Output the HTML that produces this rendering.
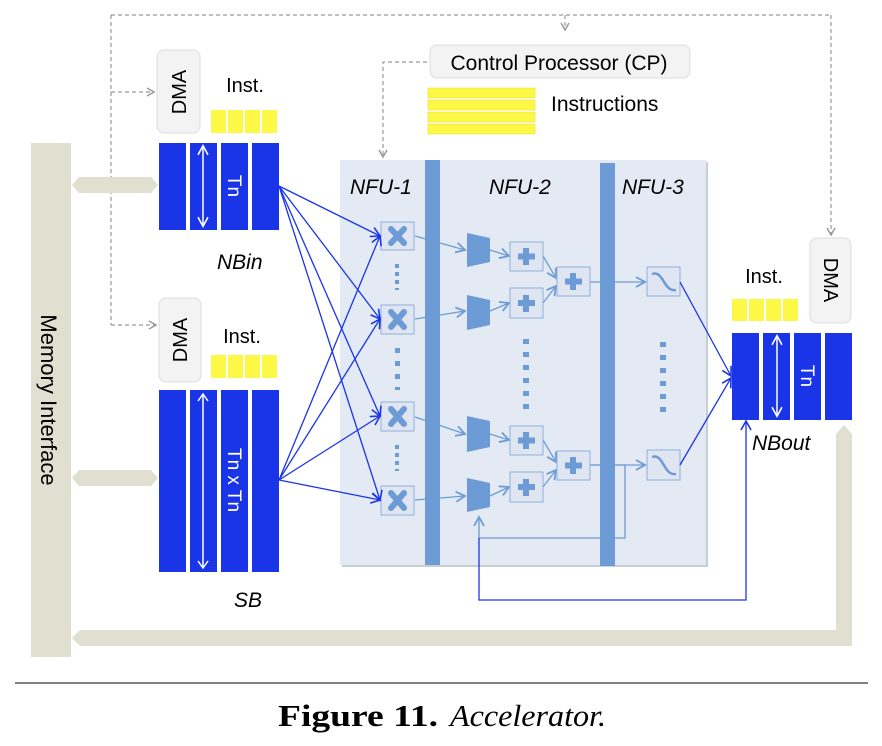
<!DOCTYPE html>
<html><head><meta charset="utf-8"><style>
html,body{margin:0;padding:0;background:#fff;}
svg{display:block;font-family:"Liberation Sans",sans-serif;}
</style></head><body>
<svg width="882" height="746" viewBox="0 0 882 746" xmlns="http://www.w3.org/2000/svg">
<defs>
<marker id="ag" markerWidth="10" markerHeight="10" refX="8" refY="5" orient="auto" markerUnits="userSpaceOnUse"><path d="M1,1 L8,5 L1,9" fill="none" stroke="#999" stroke-width="1.5"/></marker>
<marker id="ab" markerWidth="12" markerHeight="12" refX="10" refY="6" orient="auto" markerUnits="userSpaceOnUse"><path d="M1,1 L10,6 L1,11" fill="none" stroke="#1a35e8" stroke-width="1.6"/></marker>
<marker id="al" markerWidth="12" markerHeight="12" refX="10" refY="6" orient="auto" markerUnits="userSpaceOnUse"><path d="M1,1 L10,6 L1,11" fill="none" stroke="#6d9bd6" stroke-width="1.8"/></marker>
<g id="wa"><line x1="0" y1="-30" x2="0" y2="30" stroke="#fff" stroke-width="1.5"/><path d="M-5,-24 L0,-31 L5,-24 M-5,24 L0,31 L5,24" fill="none" stroke="#fff" stroke-width="1.5"/></g>
</defs>

<g fill="none" stroke="#999" stroke-width="1.2" stroke-dasharray="4,3">
<path d="M111,15 L831,15"/>
<path d="M111,15 L111,325"/>
<path d="M111,92 L154,92" marker-end="url(#ag)"/>
<path d="M111,325 L156,325" marker-end="url(#ag)"/>
<path d="M565,15 L565,30" marker-end="url(#ag)"/>
<path d="M831,15 L831,235" marker-end="url(#ag)"/>
<path d="M427,62 L383,62 L383,157" marker-end="url(#ag)"/>
</g>

<rect x="31" y="143" width="40" height="514" fill="#e1dfd0"/>
<text transform="translate(41,400) rotate(90)" text-anchor="middle" font-size="22" fill="#000">Memory Interface</text>
<path d="M72,185 L79,177 L151,177 L158,185 L151,193 L79,193 Z" fill="#e1dfd0"/>
<path d="M72,478 L79,470 L151,470 L158,478 L151,486 L79,486 Z" fill="#e1dfd0"/>
<path d="M72,638 L80,630 L836,630 L836,434 L844,425 L852,434 L852,646 L80,646 Z" fill="#e1dfd0"/>

<g fill="#f3f3f3" stroke="#ddd">
<rect x="157" y="50" width="43" height="83" rx="7"/>
<rect x="159" y="298" width="42" height="84" rx="7"/>
<rect x="810" y="238" width="41" height="85" rx="7"/>
</g>
<g font-size="20" fill="#000" text-anchor="middle">
<text transform="translate(186,92) rotate(-90)">DMA</text>
<text transform="translate(187,340) rotate(-90)">DMA</text>
<text transform="translate(824,280) rotate(90)">DMA</text>
<text x="245" y="92">Inst.</text>
<text x="242" y="343">Inst.</text>
<text x="764" y="283">Inst.</text>
</g>
<g fill="#fdf845">
<rect x="211" y="110" width="15" height="23"/><rect x="228" y="110" width="15" height="23"/><rect x="245" y="110" width="15" height="23"/><rect x="262" y="110" width="15" height="23"/>
<rect x="211" y="355" width="15" height="23"/><rect x="228" y="355" width="15" height="23"/><rect x="245" y="355" width="15" height="23"/><rect x="262" y="355" width="15" height="23"/>
<rect x="732" y="299" width="15" height="22"/><rect x="749" y="299" width="15" height="22"/><rect x="766" y="299" width="15" height="22"/><rect x="783" y="299" width="15" height="22"/>
</g>

<g fill="#1a35e8">
<rect x="159" y="143" width="27" height="87"/><rect x="190" y="143" width="27" height="87"/><rect x="221" y="143" width="27" height="87"/><rect x="252" y="143" width="27" height="87"/>
<rect x="159" y="390" width="27" height="182"/><rect x="190" y="390" width="27" height="182"/><rect x="221" y="390" width="27" height="182"/><rect x="252" y="390" width="27" height="182"/>
<rect x="732" y="333" width="27" height="87"/><rect x="763" y="333" width="27" height="87"/><rect x="794" y="333" width="27" height="87"/><rect x="825" y="333" width="27" height="87"/>
</g>
<use href="#wa" transform="translate(203,186) scale(1,1.3)"/>
<line x1="203" y1="394" x2="203" y2="568" stroke="#fff" stroke-width="1.5"/><path d="M198,401 L203,394 L208,401 M198,561 L203,568 L208,561" fill="none" stroke="#fff" stroke-width="1.5"/>
<use href="#wa" transform="translate(777,376) scale(1,1.3)"/>
<g fill="#fff" font-size="19" text-anchor="middle">
<text transform="translate(228,186) rotate(90)">Tn</text>
<text transform="translate(228,480) rotate(90)">Tn x Tn</text>
<text transform="translate(801,376) rotate(90)">Tn</text>
</g>
<g font-size="21" font-style="italic" fill="#000">
<text x="217" y="269">NBin</text>
<text x="234" y="607">SB</text>
<text x="752" y="450">NBout</text>
</g>

<rect x="430" y="45" width="260" height="33" rx="7" fill="#f3f3f3" stroke="#ddd"/>
<text x="559" y="70" font-size="21" text-anchor="middle">Control Processor (CP)</text>
<g fill="#fdf845" stroke="#e8d820" stroke-width="0.5">
<rect x="428" y="88" width="107" height="10"/><rect x="428" y="100" width="107" height="10"/><rect x="428" y="112" width="107" height="10"/><rect x="428" y="124" width="107" height="10"/>
</g>
<text x="551" y="111" font-size="21">Instructions</text>

<rect x="342" y="162" width="366" height="405" fill="#c8ccd4"/>
<rect x="340" y="160" width="366" height="405" fill="#e4eaf4"/>
<rect x="425" y="160" width="15" height="405" fill="#6d9bd6"/>
<rect x="600" y="163" width="15" height="403" fill="#6d9bd6"/>
<g font-size="21" font-style="italic">
<text x="350" y="194">NFU-1</text><text x="489" y="194">NFU-2</text><text x="622" y="194">NFU-3</text>
</g>

<g stroke="#6d9bd6" stroke-width="1.3" fill="none">
<line x1="415" y1="236" x2="465" y2="250" marker-end="url(#al)"/>
<line x1="415" y1="319" x2="465" y2="311" marker-end="url(#al)"/>
<line x1="415" y1="417" x2="465" y2="434" marker-end="url(#al)"/>
<line x1="415" y1="500" x2="465" y2="496" marker-end="url(#al)"/>
<line x1="490" y1="250" x2="509" y2="256" marker-end="url(#al)"/>
<line x1="490" y1="311" x2="509" y2="303" marker-end="url(#al)"/>
<line x1="490" y1="434" x2="509" y2="440" marker-end="url(#al)"/>
<line x1="490" y1="496" x2="509" y2="487" marker-end="url(#al)"/>
<line x1="543" y1="256" x2="556" y2="278" marker-end="url(#al)"/>
<line x1="543" y1="303" x2="556" y2="286" marker-end="url(#al)"/>
<line x1="543" y1="440" x2="556" y2="462" marker-end="url(#al)"/>
<line x1="543" y1="487" x2="556" y2="470" marker-end="url(#al)"/>
<line x1="590" y1="282" x2="645" y2="282" marker-end="url(#al)"/>
<line x1="590" y1="465" x2="645" y2="465" marker-end="url(#al)"/>
<path d="M590,465 L625,465 L625,538 L479,538 L479,517" marker-end="url(#al)"/>
</g>
<g fill="#6d9bd6">
<path d="M467,233 L490,238 L490,262 L467,267 Z"/>
<path d="M467,295 L490,300 L490,325 L467,330 Z"/>
<path d="M467,416 L490,421 L490,447 L467,452 Z"/>
<path d="M467,478 L490,483 L490,507 L467,512 Z"/>
</g>
<g fill="#dfe6f2" stroke="#8fb0dd" stroke-width="1">
<rect x="381" y="222" width="33" height="28"/><rect x="381" y="305" width="33" height="29"/><rect x="381" y="402" width="33" height="29"/><rect x="381" y="486" width="33" height="29"/>
<rect x="510" y="242" width="33" height="29"/><rect x="510" y="288" width="33" height="30"/><rect x="510" y="426" width="33" height="29"/><rect x="510" y="472" width="33" height="30"/>
<rect x="557" y="267" width="33" height="29"/><rect x="557" y="451" width="33" height="29"/>
<rect x="647" y="267" width="33" height="29"/><rect x="647" y="450" width="33" height="30"/>
</g>
<g stroke="#6d9bd6" stroke-width="6" stroke-linecap="round">
<path d="M391,229 L404,243 M404,229 L391,243"/><path d="M391,312 L404,327 M404,312 L391,327"/><path d="M391,409 L404,424 M404,409 L391,424"/><path d="M391,493 L404,508 M404,493 L391,508"/>
</g>
<g stroke="#6d9bd6" stroke-width="6">
<path d="M526,248 V265 M518,256.5 H535"/><path d="M526,295 V312 M518,303 H535"/><path d="M526,432 V449 M518,440.5 H535"/><path d="M526,479 V496 M518,487 H535"/>
<path d="M573,273 V290 M565,281.5 H582"/><path d="M573,457 V474 M565,465.5 H582"/>
</g>
<g fill="none" stroke="#6d9bd6" stroke-width="2.5">
<path d="M652,274 C664,270 663,292 676,290"/><path d="M652,457 C664,453 663,476 676,474"/>
</g>
<g fill="#6d9bd6">
<rect x="395" y="264" width="4" height="4"/><rect x="395" y="272" width="4" height="4"/><rect x="395" y="280" width="4" height="4"/><rect x="395" y="288" width="4" height="2"/>
<rect x="395" y="348" width="5" height="5"/><rect x="395" y="361" width="5" height="5"/><rect x="395" y="374" width="5" height="5"/><rect x="395" y="387" width="5" height="3"/>
<rect x="395" y="445" width="4" height="4"/><rect x="395" y="453" width="4" height="4"/><rect x="395" y="461" width="4" height="4"/><rect x="395" y="469" width="4" height="2"/>
<rect x="523" y="339" width="6" height="5"/><rect x="523" y="352" width="6" height="5"/><rect x="523" y="365" width="6" height="5"/><rect x="523" y="378" width="6" height="5"/><rect x="523" y="391" width="6" height="5"/><rect x="523" y="404" width="6" height="5"/>
<rect x="660" y="342" width="6" height="5"/><rect x="660" y="355" width="6" height="5"/><rect x="660" y="368" width="6" height="5"/><rect x="660" y="381" width="6" height="5"/><rect x="660" y="394" width="6" height="5"/><rect x="660" y="407" width="6" height="5"/>
</g>

<g stroke="#1a35e8" stroke-width="1.3" fill="none">
<line x1="279" y1="186" x2="380" y2="236" marker-end="url(#ab)"/>
<line x1="279" y1="186" x2="380" y2="319" marker-end="url(#ab)"/>
<line x1="279" y1="186" x2="380" y2="416" marker-end="url(#ab)"/>
<line x1="279" y1="186" x2="380" y2="500" marker-end="url(#ab)"/>
<line x1="279" y1="480" x2="380" y2="236" marker-end="url(#ab)"/>
<line x1="279" y1="480" x2="380" y2="319" marker-end="url(#ab)"/>
<line x1="279" y1="480" x2="380" y2="416" marker-end="url(#ab)"/>
<line x1="279" y1="480" x2="380" y2="500" marker-end="url(#ab)"/>
<line x1="680" y1="282" x2="731" y2="376" marker-end="url(#ab)"/>
<line x1="680" y1="465" x2="731" y2="378" marker-end="url(#ab)"/>
<path d="M479,538 L479,600 L746,600 L746,421" marker-end="url(#ab)"/>
</g>

<line x1="15" y1="683" x2="868" y2="683" stroke="#000" stroke-width="1"/>
<text x="278" y="726" font-family="Liberation Serif,serif" font-size="31" font-weight="bold" textLength="160" lengthAdjust="spacingAndGlyphs">Figure 11.</text>
<text x="450" y="726" font-family="Liberation Serif,serif" font-size="31" font-style="italic" textLength="156" lengthAdjust="spacingAndGlyphs">Accelerator.</text>
</svg>
</body></html>
